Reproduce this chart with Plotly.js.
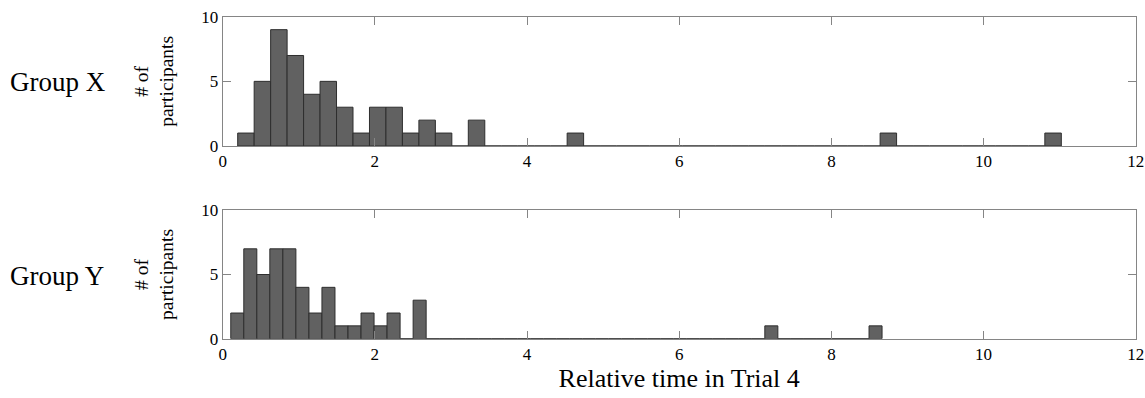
<!DOCTYPE html>
<html>
<head>
<meta charset="utf-8">
<script src="https://cdn.plot.ly/plotly-3.0.1.min.js"></script>
<style>html,body{margin:0;padding:0;background:#fff;}#chart{width:1145px;height:398px;}</style>
</head>
<body>
<div id="chart"></div>
<script>
// Histogram data: 50 equal-width bins per group (MATLAB-style hist)
const groupXBinStart = 0.197;
const groupXBinWidth = 0.2165;
const groupXCounts = [1,5,9,7,4,5,3,1,3,3, 1,2,1,0,2,0,0,0,0,0, 1,0,0,0,0,0,0,0,0,0, 0,0,0,0,0,0,0,0,0,1, 0,0,0,0,0,0,0,0,0,1];

const groupYBinStart = 0.106;
const groupYBinWidth = 0.1712;
const groupYCounts = [2,7,5,7,7,4,2,4,1,1, 2,1,2,0,3,0,0,0,0,0, 0,0,0,0,0,0,0,0,0,0, 0,0,0,0,0,0,0,0,0,0, 0,1,0,0,0,0,0,0,0,1];

const groupLabels = ["Group X", "Group Y"];
const yTitle = "# of<br>participants";
const xTitle = "Relative time in Trial 4";
const xTickVals = [0,2,4,6,8,10,12];
const yTickVals = [0,5,10];

function centers(start, width, counts) {
  return counts.map((_, i) => start + width * (i + 0.5));
}

const FONT = "Liberation Serif";
const barFill = "#616161";
const barEdge = "#2e2e2e";
const frame = "#858585";

const traces = [
  {type: "bar", x: centers(groupXBinStart, groupXBinWidth, groupXCounts), y: groupXCounts,
   width: groupXBinWidth, xaxis: "x", yaxis: "y",
   marker: {color: barFill, line: {color: barEdge, width: 1}}, hoverinfo: "x+y"},
  {type: "bar", x: centers(groupYBinStart, groupYBinWidth, groupYCounts), y: groupYCounts,
   width: groupYBinWidth, xaxis: "x2", yaxis: "y2",
   marker: {color: barFill, line: {color: barEdge, width: 1}}, hoverinfo: "x+y"}
];

function xax(anchor, showTitle) {
  const a = {domain: [0.1945, 0.9919], range: [0, 12], anchor: anchor,
    tickvals: xTickVals, ticks: "inside", ticklen: 8, tickcolor: frame, tickwidth: 1,
    showline: true, linecolor: frame, linewidth: 1, mirror: "ticks",
    showgrid: false, zeroline: false,
    tickfont: {family: FONT, size: 17, color: "#000"}};
  if (showTitle) a.title = {text: xTitle, font: {family: FONT, size: 26, color: "#000"}, standoff: 4};
  return a;
}
function yax(anchor, domain) {
  return {domain: domain, range: [0, 10], anchor: anchor,
    tickvals: yTickVals, ticks: "inside", ticklen: 8, tickcolor: frame, tickwidth: 1,
    showline: true, linecolor: frame, linewidth: 1, mirror: "ticks",
    showgrid: false, zeroline: false,
    tickfont: {family: FONT, size: 17, color: "#000"},
    title: {text: yTitle, font: {family: FONT, size: 19.5, color: "#000"}, standoff: 22}};
}

const layout = {
  width: 1145, height: 398,
  margin: {l: 0, r: 0, t: 0, b: 0},
  paper_bgcolor: "#fff", plot_bgcolor: "#fff",
  showlegend: false, bargap: 0,
  font: {family: FONT, color: "#000"},
  xaxis: xax("y", false),
  yaxis: yax("x", [0.6332, 0.958]),
  xaxis2: xax("y2", true),
  yaxis2: yax("x2", [0.149, 0.4716]),
  annotations: [
    {text: groupLabels[0], xref: "paper", yref: "paper", x: 8/1145, y: (398-82)/398,
     xanchor: "left", yanchor: "middle", showarrow: false, font: {family: FONT, size: 27, color: "#000"}},
    {text: groupLabels[1], xref: "paper", yref: "paper", x: 8/1145, y: (398-276)/398,
     xanchor: "left", yanchor: "middle", showarrow: false, font: {family: FONT, size: 27, color: "#000"}}
  ]
};

Plotly.newPlot("chart", traces, layout, {displayModeBar: false, staticPlot: true});
</script>
</body>
</html>
